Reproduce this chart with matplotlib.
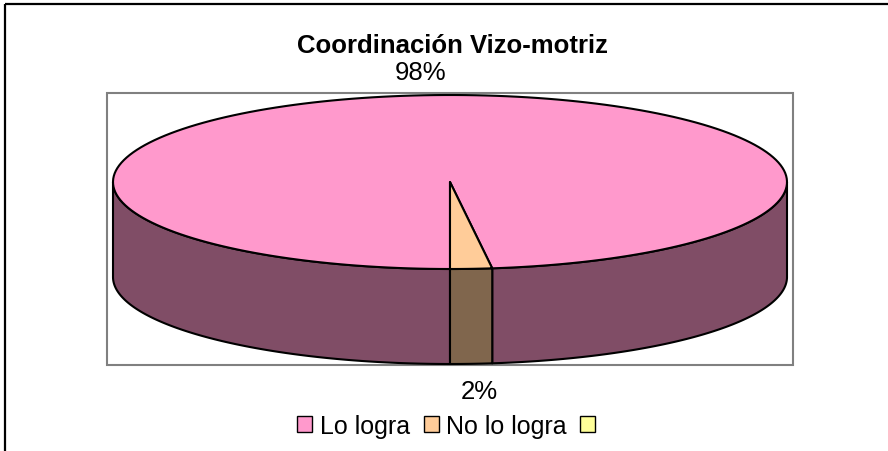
import numpy as np
import matplotlib.pyplot as plt
from matplotlib.patches import Polygon, Patch, Rectangle

plt.rcParams['font.family'] = ['Liberation Sans', 'DejaVu Sans']

# data
title = 'Coordinación Vizo-motriz'
categories = ['Lo logra', 'No lo logra', '']
values = [98, 2, 0]
top_colors = ['#FF99CC', '#FFCC99', '#FFFF99']
side_colors = ['#804D66', '#80664D', '#80804D']

W, H = 888, 452
fig = plt.figure(figsize=(W / 100, H / 100), dpi=100)
ax = fig.add_axes([0, 0, 1, 1])
ax.set_xlim(0, W)
ax.set_ylim(H, 0)
ax.axis('off')

# pie geometry (pixels)
cx, cy, a, b, depth = 450, 183, 337, 87, 95
start = 270.0  # first slice starts at 6 o'clock, slices run clockwise
FS = 18.5


def arc(t0, t1, dy=0, n=200):
    t = np.radians(np.linspace(t0, t1, n))
    return np.column_stack([cx + a * np.cos(t), cy - b * np.sin(t) + dy])


def front_runs(t0, t1):
    runs = []
    for k in range(-2, 3):
        lo, hi = 360 * k - 180, 360 * k
        s, e = max(t0, lo), min(t1, hi)
        if e > s:
            runs.append((s, e))
    return runs


total = float(sum(values))
slices = []
t_from = start
for v in values:
    span = 360.0 * v / total
    slices.append((t_from - span, t_from))
    t_from -= span

# sides
for (t0, t1), v, sc in zip(slices, values, side_colors):
    if v <= 0:
        continue
    for s, e in front_runs(t0, t1):
        top = arc(s, e)
        bot = arc(e, s, dy=depth)
        ax.add_patch(Polygon(np.vstack([top, bot]), closed=True, facecolor=sc,
                             edgecolor='black', lw=1.5, joinstyle='round', zorder=2))

# top faces
for (t0, t1), v, tc in zip(slices, values, top_colors):
    if v <= 0:
        continue
    pts = np.vstack([[cx, cy], arc(t0, t1)])
    ax.add_patch(Polygon(pts, closed=True, facecolor=tc, edgecolor='black',
                         lw=1.5, joinstyle='round', zorder=3))

# data labels
for (t0, t1), v in zip(slices, values):
    if v <= 0:
        continue
    mid = np.radians((t0 + t1) / 2)
    lx = cx + 1.4 * a * np.cos(mid)
    if np.sin(mid) > 0:
        ly = cy - b * np.sin(mid) - 16
    else:
        ly = cy + depth - b * np.sin(mid) + 34
    ax.text(lx, ly, f'{v / total:.0%}', ha='center', va='baseline', fontsize=FS, zorder=5)

# plot area frame and chart border
ax.add_patch(Rectangle((107, 94), 686, 272, fill=False, edgecolor='#808080', lw=1.5, zorder=1))
ax.plot([5, 5], [H, 5], color='black', lw=1.6, solid_capstyle='butt')
ax.plot([5, W], [5, 5], color='black', lw=1.6, solid_capstyle='butt')

ax.text(452, 53, title, ha='center', va='baseline', fontsize=FS, fontweight='bold')

handles = [Patch(facecolor=c, edgecolor='black', lw=1.0) for c in top_colors]
fig.legend(handles, categories, loc='center', bbox_to_anchor=(450 / W, 1 - 427 / H),
           ncol=3, frameon=False, fontsize=18, handlelength=0.6, handleheight=0.6,
           handletextpad=0.3, columnspacing=0.55, borderaxespad=0)

fig.savefig('out.png', dpi=100)
